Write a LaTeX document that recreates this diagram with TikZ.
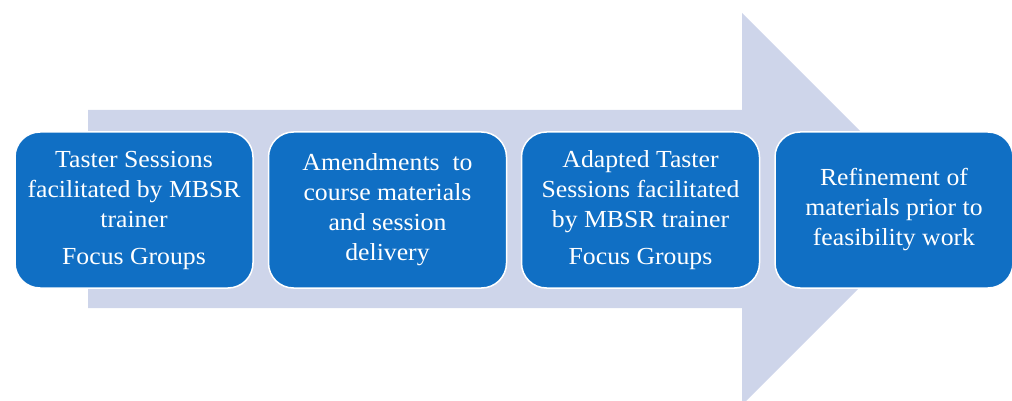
\documentclass[tikz,border=0pt]{standalone}
\usepackage{fontspec}
\setmainfont[FakeStretch=1.05]{Liberation Serif}
\definecolor{boxblue}{RGB}{16,111,196}
\definecolor{arrowlav}{RGB}{206,213,234}
\begin{document}
\begin{tikzpicture}[x=1pt,y=-1pt,
  stagebox/.style={draw=white,line width=1.5pt,fill=boxblue,rounded corners=25pt,
    minimum width=238pt,minimum height=156pt,inner sep=0pt,text=white,
    align=center,font=\fontsize{24.5}{30}\selectfont}]
\useasboundingbox (0,0) rectangle (1012,401);
\clip (0,0) rectangle (1012,401);
\fill[arrowlav] (88,110) -- (742,110) -- (742,13) -- (938,209) -- (742,405) -- (742,308) -- (88,308) -- cycle;
\node[stagebox] (b1) at (134,210) {Taster Sessions\\facilitated by MBSR\\trainer\\[7pt]Focus Groups};
\node[stagebox] (b2) at (387.5,210) {Amendments\ \ to\\course materials\\and session\\delivery};
\node[stagebox] (b3) at (640.5,210) {Adapted Taster\\Sessions facilitated\\by MBSR trainer\\[7pt]Focus Groups};
\node[stagebox] (b4) at (894,210) {Refinement of\\materials prior to\\feasibility work};
\end{tikzpicture}
\end{document}
